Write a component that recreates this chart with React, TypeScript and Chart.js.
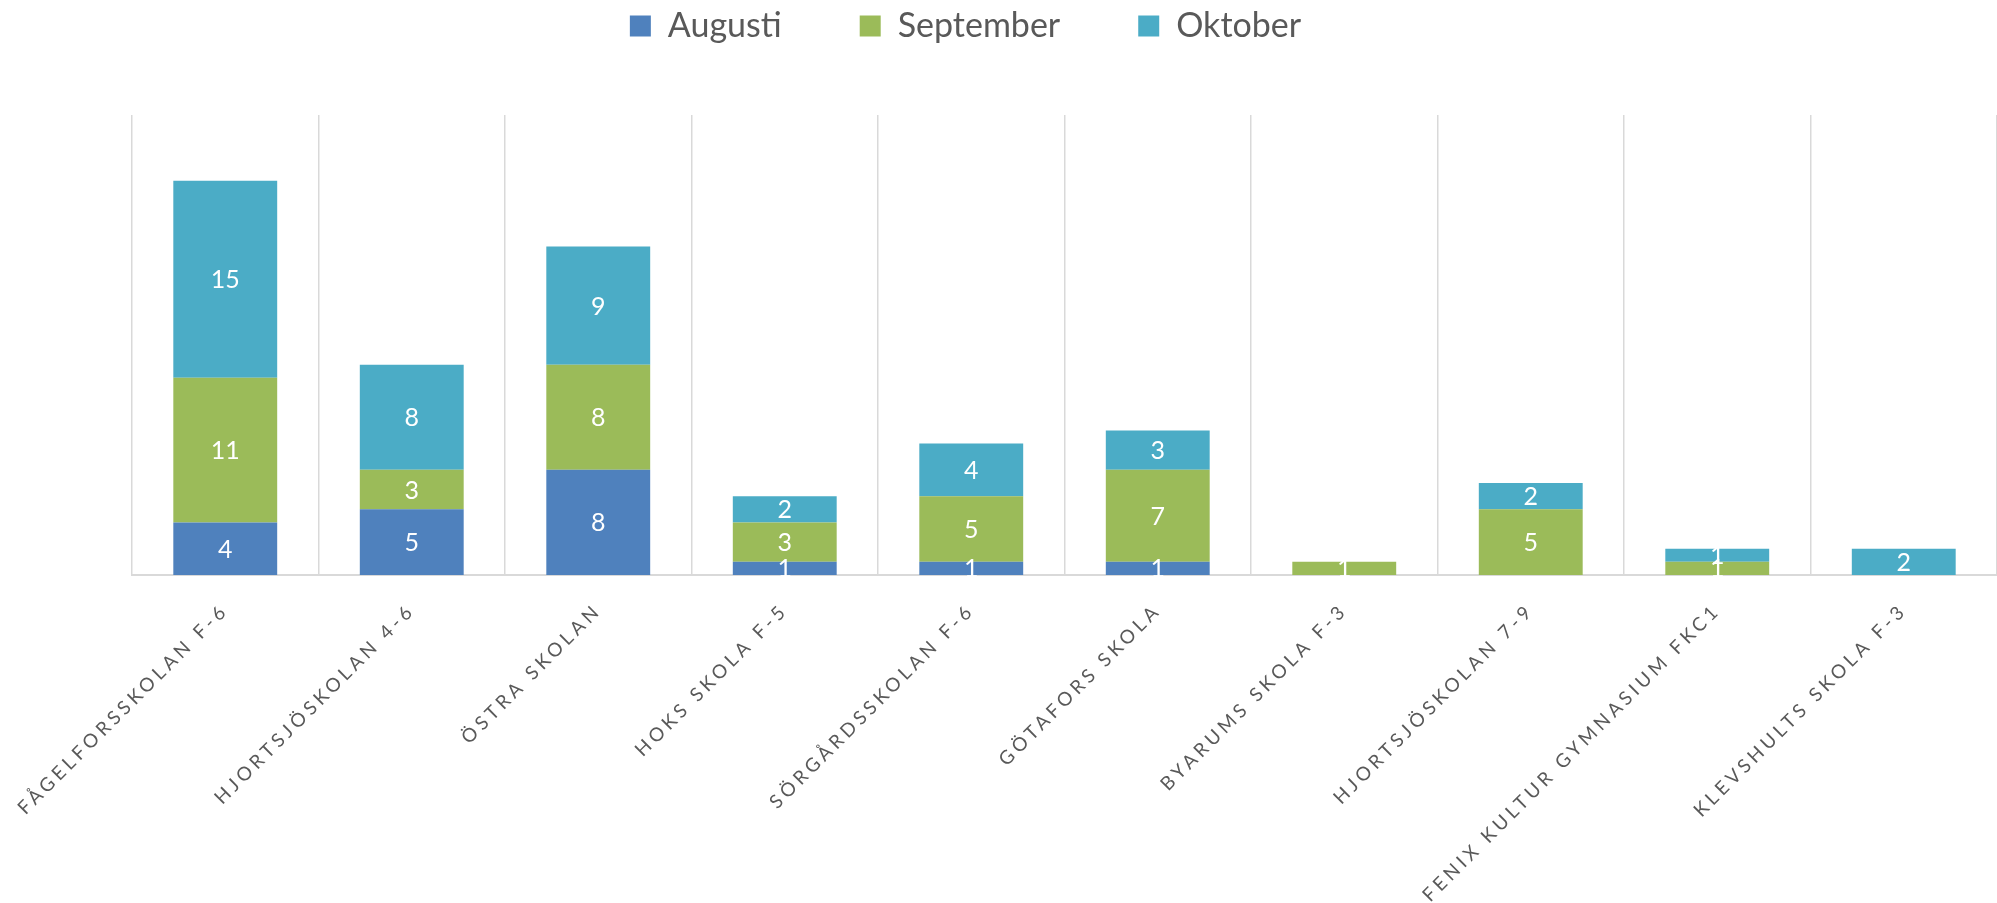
import React, { useEffect, useRef } from "react";
import { Chart, registerables } from "chart.js";

Chart.register(...registerables);

const categories = [
  "FÅGELFORSSKOLAN F-6",
  "HJORTSJÖSKOLAN 4-6",
  "ÖSTRA SKOLAN",
  "HOKS SKOLA F-5",
  "SÖRGÅRDSSKOLAN F-6",
  "GÖTAFORS SKOLA",
  "BYARUMS SKOLA F-3",
  "HJORTSJÖSKOLAN 7-9",
  "FENIX KULTUR GYMNASIUM FKC1",
  "KLEVSHULTS SKOLA F-3",
];

const augusti = [4, 5, 8, 1, 1, 1, 0, 0, 0, 0];
const september = [11, 3, 8, 3, 5, 7, 1, 5, 1, 0];
const oktober = [15, 8, 9, 2, 4, 3, 0, 2, 1, 2];

const seriesNames = ["Augusti", "September", "Oktober"];
const seriesColors = ["#4f81bd", "#9bbb59", "#4bacc6"];

const W = 1997;
const H = 903;

export default function App() {
  const ref = useRef<HTMLCanvasElement | null>(null);

  useEffect(() => {
    if (!ref.current) return;

    const letterSpacingPlugin = {
      id: "xLetterSpacing",
      beforeDraw(chart: any) {
        const sx = chart.scales.x;
        if (sx && !sx.__ls) {
          const orig = sx.drawLabels.bind(sx);
          sx.drawLabels = (area: any) => {
            const ctx = chart.ctx;
            ctx.save();
            (ctx as any).letterSpacing = "4px";
            orig(area);
            ctx.restore();
          };
          sx.__ls = true;
        }
      },
    };

    const legendPlace = {
      id: "legendPlace",
      afterLayout(chart: any) {
        const lg = chart.legend;
        if (lg) {
          const pad = lg.options.labels.padding;
          lg.top = 9 - pad;
          lg.left -= 99;
          lg.right -= 99;
        }
      },
    };

    const dataLabels = {
      id: "dataLabels",
      afterDatasetsDraw(chart: any) {
        const ctx = chart.ctx;
        ctx.save();
        ctx.font = "25px Lato";
        ctx.fillStyle = "#ffffff";
        ctx.textAlign = "center";
        ctx.textBaseline = "middle";
        chart.data.datasets.forEach((ds: any, i: number) => {
          const meta = chart.getDatasetMeta(i);
          meta.data.forEach((el: any, j: number) => {
            const v = ds.data[j];
            if (!v) return;
            const p = el.getProps(["x", "y", "base"], true);
            ctx.fillText(String(v), p.x, (p.y + p.base) / 2 + 1);
          });
        });
        ctx.restore();
      },
    };

    const seriesData = [augusti, september, oktober];

    const chart = new Chart(ref.current, {
      type: "bar",
      data: {
        labels: categories,
        datasets: seriesNames.map((name, i) => ({
          label: name,
          data: seriesData[i],
          backgroundColor: seriesColors[i],
          borderWidth: 0,
          categoryPercentage: 1,
          barPercentage: 0.557,
        })),
      },
      options: {
        responsive: false,
        animation: false,
        layout: { padding: { left: 132, right: 0, top: 55, bottom: 0 } },
        plugins: {
          tooltip: { enabled: false },
          legend: {
            position: "top",
            maxHeight: 60,
            labels: {
              boxWidth: 21,
              boxHeight: 21,
              padding: 78,
              color: "#595959",
              font: { family: "Lato", size: 34 },
            },
          },
        },
        scales: {
          x: {
            stacked: true,
            grid: {
              display: true,
              offset: true,
              color: "#d9d9d9",
              lineWidth: 1.5,
              drawTicks: false,
            },
            border: { display: true, color: "#d9d9d9", width: 2 },
            ticks: {
              autoSkip: false,
              minRotation: 45,
              maxRotation: 45,
              padding: 24,
              color: "#595959",
              font: { family: "Lato", size: 19 },
            },
            afterFit(scale: any) {
              scale.height = H - 575;
            },
          },
          y: {
            stacked: true,
            display: false,
            min: 0,
            max: 35,
          },
        },
      },
      plugins: [letterSpacingPlugin, legendPlace, dataLabels],
    } as any);

    return () => {
      chart.destroy();
    };
  }, []);

  return (
    <canvas
      ref={ref}
      width={W}
      height={H}
      style={{ position: "fixed", left: 0, top: 0, width: W, height: H, display: "block" }}
    />
  );
}
